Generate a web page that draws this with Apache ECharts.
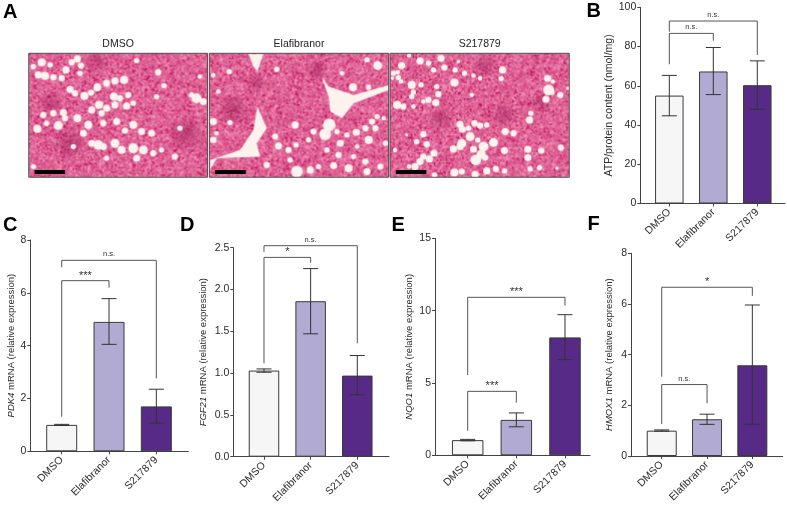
<!DOCTYPE html>
<html><head><meta charset="utf-8">
<style>html,body{margin:0;padding:0;background:#fff}#c{width:787px;height:517px}</style>
<script src="https://cdn.jsdelivr.net/npm/echarts@6/dist/echarts.min.js"></script>
</head><body><div id="c"></div>
<script>
const categories = ['DMSO', 'Elafibranor', 'S217879'];
const photoTitles = ['DMSO', 'Elafibranor', 'S217879'];
const atpValues = [55, 67.3, 60.3];
const atpLow = [44.7, 55.5, 48];
const atpHigh = [65.3, 79.5, 72.7];
const atpBrackets = [[0, 71, 86.7, 1, 83], [0, 87.6, 93, 2, 75.7]];
const atpMarks = ['n.s.', 'n.s.'];
const pdk4Values = [1, 4.9, 1.7];
const pdk4Low = [0.98, 4.05, 1.07];
const pdk4High = [1.02, 5.78, 2.35];
const pdk4Brackets = [[0, 1.31, 6.46, 1, 6.2], [0, 6.97, 7.23, 2, 2.76]];
const pdk4Marks = ['***', 'n.s.'];
const fgf21Values = [1.03, 1.86, 0.97];
const fgf21Low = [1.01, 1.47, 0.74];
const fgf21High = [1.05, 2.25, 1.21];
const fgf21Brackets = [[0, 1.116, 2.384, 1, 2.32], [0, 2.45, 2.524, 2, 1.356]];
const fgf21Marks = ['*', 'n.s.'];
const nqo1Values = [1.05, 2.45, 8.15];
const nqo1Low = [1.0, 1.97, 6.62];
const nqo1High = [1.1, 2.93, 9.72];
const nqo1Brackets = [[0, 1.7, 4.42, 1, 3.64], [0, 5.55, 10.92, 2, 10.35]];
const nqo1Marks = ['***', '***'];
const hmox1Values = [1, 1.45, 3.58];
const hmox1Low = [0.98, 1.25, 1.25];
const hmox1High = [1.03, 1.65, 5.96];
const hmox1Brackets = [[0, 1.26, 2.82, 1, 2.08], [0, 3.13, 6.66, 2, 6.32]];
const hmox1Marks = ['n.s.', '*'];

const barColors = ['#f6f6f6', '#b1aad2', '#562a86'];
const FONT = '"Liberation Sans", Arial, sans-serif';
const INK = '#2b2b2b';

const panels = [
  {v: atpValues, lo: atpLow, hi: atpHigh, br: atpBrackets, mk: atpMarks, left: 640.3, right: 785, top: 7.3, bottom: 203.5, xMin: -0.66, xMax: 2.63, yMax: 100, step: 20, bw: 28.5, name: 'ATP/protein content (nmol/mg)', nameSize: 10.5, gap: 25, dec: 0},
  {v: pdk4Values, lo: pdk4Low, hi: pdk4High, br: pdk4Brackets, mk: pdk4Marks, left: 30.3, right: 188.3, top: 240, bottom: 451.3, xMin: -0.664, xMax: 2.676, yMax: 8, step: 2, bw: 31, name: '{i|PDK4} mRNA (relative expression)', nameSize: 9.5, gap: 14, dec: 0},
  {v: fgf21Values, lo: fgf21Low, hi: fgf21High, br: fgf21Brackets, mk: fgf21Marks, left: 233.3, right: 389, top: 247.7, bottom: 456.7, xMin: -0.658, xMax: 2.68, yMax: 2.5, step: 0.5, bw: 30.5, name: '{i|FGF21} mRNA (relative expression)', nameSize: 9.5, gap: 25, dec: 1},
  {v: nqo1Values, lo: nqo1Low, hi: nqo1High, br: nqo1Brackets, mk: nqo1Marks, left: 435, right: 590, top: 238.3, bottom: 455.3, xMin: -0.672, xMax: 2.514, yMax: 15, step: 5, bw: 31.5, name: '{i|NQO1} mRNA (relative expression)', nameSize: 9.5, gap: 21, dec: 0},
  {v: hmox1Values, lo: hmox1Low, hi: hmox1High, br: hmox1Brackets, mk: hmox1Marks, left: 631, right: 782.7, top: 253.3, bottom: 456, xMin: -0.678, xMax: 2.67, yMax: 8, step: 2, bw: 30, name: '{i|HMOX1} mRNA (relative expression)', nameSize: 9.5, gap: 17, dec: 0}
];

const grid = [], xAxis = [], yAxis = [], series = [];
panels.forEach((p, i) => {
  grid.push({left: p.left, top: p.top, width: p.right - p.left, height: p.bottom - p.top, containLabel: false});
  xAxis.push({
    type: 'value', gridIndex: i, min: p.xMin, max: p.xMax, splitLine: {show: false},
    axisLine: {onZero: false, lineStyle: {color: '#444', width: 1}},
    axisTick: {length: 3, customValues: [0, 1, 2], lineStyle: {color: '#444', width: 1}},
    axisLabel: {customValues: [0, 1, 2], rotate: 45, margin: 7, fontSize: 10.5, fontFamily: FONT, color: INK,
      formatter: v => categories[Math.round(v)]}
  });
  yAxis.push({
    type: 'value', gridIndex: i, min: 0, max: p.yMax, interval: p.step, splitLine: {show: false},
    axisLine: {show: true, onZero: false, lineStyle: {color: '#444', width: 1}},
    axisTick: {show: true, length: 3, lineStyle: {color: '#444', width: 1}},
    axisLabel: {margin: 4, fontSize: 10.5, fontFamily: FONT, color: INK, formatter: v => v.toFixed(p.dec)},
    name: p.name, nameLocation: 'middle', nameGap: p.gap,
    nameTextStyle: {fontSize: p.nameSize, fontFamily: FONT, color: INK,
      rich: {i: {fontStyle: 'italic', fontSize: p.nameSize, fontFamily: FONT, color: INK}}}
  });
  series.push({
    type: 'bar', xAxisIndex: i, yAxisIndex: i, barWidth: p.bw, silent: true, animation: false,
    data: p.v.map((y, k) => ({value: [k, y], itemStyle: {color: barColors[k], borderColor: '#3a3a3a', borderWidth: 1}}))
  });
  series.push({
    type: 'custom', xAxisIndex: i, yAxisIndex: i, silent: true, animation: false, clip: false, z: 5,
    encode: {x: 0, y: [1, 2]},
    data: p.lo.map((l, k) => [k, l, p.hi[k]]),
    renderItem: (params, api) => {
      const a = api.coord([api.value(0), api.value(1)]), b = api.coord([api.value(0), api.value(2)]);
      const st = {stroke: '#333', lineWidth: 1, fill: null};
      const cap = 7.5;
      return {type: 'group', children: [
        {type: 'line', shape: {x1: a[0], y1: a[1], x2: b[0], y2: b[1]}, style: st},
        {type: 'line', shape: {x1: a[0] - cap, y1: a[1], x2: a[0] + cap, y2: a[1]}, style: st},
        {type: 'line', shape: {x1: b[0] - cap, y1: b[1], x2: b[0] + cap, y2: b[1]}, style: st}
      ]};
    }
  });
  series.push({
    type: 'custom', xAxisIndex: i, yAxisIndex: i, silent: true, animation: false, clip: false, z: 6,
    encode: {x: [0, 3], y: [1, 2, 4]},
    data: p.br,
    renderItem: (params, api) => {
      const l = api.coord([api.value(0), api.value(1)]);
      const t = api.coord([api.value(0), api.value(2)]);
      const t2 = api.coord([api.value(3), api.value(2)]);
      const r = api.coord([api.value(3), api.value(4)]);
      const mark = p.mk[params.dataIndex];
      const stars = mark !== 'n.s.';
      return {type: 'group', children: [
        {type: 'polyline', shape: {points: [l, t, t2, r]}, style: {stroke: '#555', lineWidth: 1, fill: null}},
        {type: 'text', style: {text: mark, x: (t[0] + t2[0]) / 2, y: t[1] - (stars ? 5 : 6),
          textAlign: 'center', textVerticalAlign: 'middle', font: (stars ? '11px ' : '7.5px ') + FONT, fill: '#333'}}
      ]};
    }
  });
});

/* Histology photographs: a hand-placed sketch of the tissue (fat vacuoles, tears, dark patches), not chart data. */
const photoBlobs = [
 [[125,187,9],[100,200,6],[150,195,6],[215,187,7],[243,197,7],[232,177,8],[198,210,8],[115,225,8],[135,228,9],[160,232,7],[185,235,7],[240,220,6],[410,182,6],[475,217,7],[492,257,6],[470,290,6],[292,262,9],[345,243,8],[372,240,9],[320,250,8],[210,268,8],[253,288,9],[273,278,7],[225,280,7],[297,315,9],[320,325,8],[342,290,9],[360,295,7],[385,285,7],[275,330,8],[305,340,7],[345,315,8],[380,318,8],[400,310,6],[130,345,7],[160,340,7],[190,338,8],[232,355,9],[195,355,7],[112,387,9],[175,377,10],[140,370,6],[265,375,9],[310,370,7],[350,365,8],[400,375,9],[375,392,7],[425,395,8],[455,400,8],[250,400,8],[295,435,11],[275,430,8],[345,430,10],[365,450,9],[400,445,11],[430,450,10],[460,460,7],[310,440,8],[410,475,8],[485,450,6],[100,500,6],[590,295,11],[610,305,8],[575,285,6],[540,385,6],[525,470,7],[600,230,5],[220,440,6],[320,475,6]],
 [[688,215,6],[830,208,6],[640,225,5],[655,275,5],[1132,197,10],[1100,180,6],[1058,262,9],[1105,262,6],[1025,220,5],[640,365,8],[690,368,6],[650,400,5],[640,420,7],[885,375,8],[987,375,14],[975,403,13],[940,395,7],[1068,397,8],[1095,385,7],[1115,365,7],[1130,350,6],[1150,355,5],[1010,395,6],[1040,405,6],[835,438,8],[865,450,7],[888,435,6],[925,420,6],[980,450,6],[1020,430,8],[1105,420,9],[1125,385,7],[1070,440,5],[1015,465,7],[1060,470,6],[1095,485,7],[890,515,13],[930,510,8],[800,495,7],[1000,497,8],[1045,505,9],[1100,515,8],[1140,500,7],[870,480,6],[1155,430,6],[955,500,6],[825,410,7]],
 [[50,92,8],[72,62,5],[105,78,8],[130,85,6],[168,70,8],[145,105,6],[178,98,7],[210,105,6],[220,80,4],[25,115,6],[38,112,5],[40,128,6],[22,130,4],[48,140,5],[80,150,9],[108,150,6],[155,155,6],[208,143,9],[238,115,6],[265,122,5],[285,130,5],[352,105,8],[348,131,6],[487,130,8],[503,140,5],[490,165,12],[482,193,8],[500,172,6],[525,180,7],[548,160,4],[85,172,6],[80,185,6],[160,178,7],[130,195,7],[152,203,8],[115,200,5],[36,210,9],[55,215,7],[85,215,5],[260,180,5],[433,255,8],[437,235,6],[225,268,8],[268,265,7],[250,280,6],[285,272,7],[305,270,6],[232,283,8],[255,305,10],[230,325,10],[225,335,8],[278,315,6],[325,323,10],[295,335,11],[205,342,8],[265,343,8],[147,355,8],[125,328,7],[95,320,6],[115,298,7],[288,358,10],[300,368,7],[272,375,12],[358,347,8],[428,343,8],[468,347,7],[527,338,7],[428,368,8],[385,295,7],[360,290,8],[115,365,7],[133,372,8],[105,380,8],[90,395,8],[72,395,5],[208,413,9],[230,410,7],[332,402,7],[358,408,6],[435,402,6],[463,398,6],[148,420,6],[305,408,8],[270,418,8],[65,300,3],[30,345,5],[515,400,4]]
];
const photoTears = [[], [
 [745,162,790,162,772,215,760,200],
 [965,232,985,260,1060,285,1165,255,1165,270,1060,310,1025,355,990,335,985,290],
 [772,320,800,385,770,430,780,470,650,475,630,510,630,480,720,450,760,390]
], []];
const photoShades = [
 [[155,310,40],[210,430,55],[290,180,40],[560,400,60]],
 [[770,250,30],[950,210,35],[700,330,50]],
 [[165,250,40],[355,240,40],[470,200,35],[300,90,40]]
];
const photoFrames = [
  {x: 28.7, y: 53.3, w: 178.8, h: 124, ox: 86, oy: 160},
  {x: 209.3, y: 53.3, w: 179.4, h: 124, ox: 628, oy: 160},
  {x: 390, y: 53.3, w: 179.3, h: 124, ox: 15, oy: 55}
];
function photo(idx) {
  const f = photoFrames[idx], W = Math.round(f.w), H = Math.round(f.h);
  const smallW = Math.round(W / 1.5), smallH = Math.round(H / 1.5);
  const small = document.createElement('canvas'); small.width = smallW; small.height = smallH;
  const sc = small.getContext('2d');
  const im = sc.createImageData(smallW, smallH);
  let s = 12345 + idx * 977;
  const rnd = () => (s = (s * 1664525 + 1013904223) >>> 0) / 4294967296;
  for (let y = 0; y < smallH; y++) for (let x = 0; x < smallW; x++) {
    const n = rnd(); const sp = n < 0.1 ? -50 : n > 0.72 ? 34 : 0;
    const k = sp + (rnd() - 0.5) * 34;
    const o = (y * smallW + x) * 4;
    im.data[o] = Math.min(255, 220 + k * 0.5);
    im.data[o + 1] = Math.max(0, 92 + k * 1.25);
    im.data[o + 2] = Math.max(0, 144 + k * 0.95);
    im.data[o + 3] = 255;
  }
  sc.putImageData(im, 0, 0);
  const cv = document.createElement('canvas'); cv.width = W; cv.height = H;
  const ctx = cv.getContext('2d');
  ctx.imageSmoothingEnabled = true;
  ctx.drawImage(small, 0, 0, W, H);
  photoShades[idx].forEach(d => {
    const X = (d[0] - f.ox) / 3, Y = (d[1] - f.oy) / 3, R = d[2] / 3;
    const g = ctx.createRadialGradient(X, Y, 0, X, Y, R);
    g.addColorStop(0, 'rgba(150,20,80,0.5)'); g.addColorStop(1, 'rgba(150,20,80,0)');
    ctx.fillStyle = g; ctx.fillRect(X - R, Y - R, 2 * R, 2 * R);
  });
  ctx.filter = 'blur(0.5px)';
  ctx.fillStyle = '#fdf3ee';
  photoTears[idx].forEach(pg => {
    ctx.beginPath();
    for (let i = 0; i < pg.length; i += 2) {
      const X = (pg[i] - f.ox) / 3, Y = (pg[i + 1] - f.oy) / 3;
      i ? ctx.lineTo(X, Y) : ctx.moveTo(X, Y);
    }
    ctx.closePath(); ctx.fill();
  });
  photoBlobs[idx].forEach(b => {
    ctx.beginPath(); ctx.arc((b[0] - f.ox) / 3, (b[1] - f.oy) / 3, b[2] * 1.35 / 3, 0, Math.PI * 2); ctx.fill();
  });
  return cv;
}

const graphic = [];
photoFrames.forEach((f, i) => {
  graphic.push({type: 'image', silent: true, x: f.x, y: f.y, style: {image: photo(i), x: 0, y: 0, width: f.w, height: f.h}});
  graphic.push({type: 'rect', silent: true, shape: {x: f.x, y: f.y, width: f.w, height: f.h}, style: {fill: null, stroke: '#555', lineWidth: 1}});
  graphic.push({type: 'rect', silent: true, shape: {x: f.x + 5.8, y: 170, width: 30.6, height: 4}, style: {fill: '#000'}});
  graphic.push({type: 'text', silent: true, x: f.x + f.w / 2, y: 43.7, style: {text: photoTitles[i], textAlign: 'center', textVerticalAlign: 'middle', font: '10.5px ' + FONT, fill: '#222'}});
});
[['A', 3, 12], ['B', 586.5, 11.5], ['C', 3, 225.5], ['D', 180, 225.5], ['E', 391.5, 225], ['F', 587.5, 224]].forEach(l => {
  graphic.push({type: 'text', silent: true, x: l[1], y: l[2], style: {text: l[0], textAlign: 'left', textVerticalAlign: 'middle', font: 'bold 20px ' + FONT, fill: '#000'}});
});

const chart = echarts.init(document.getElementById('c'), null, {renderer: 'canvas'});
chart.setOption({animation: false, backgroundColor: '#fff', grid, xAxis, yAxis, series, graphic});
</script></body></html>
